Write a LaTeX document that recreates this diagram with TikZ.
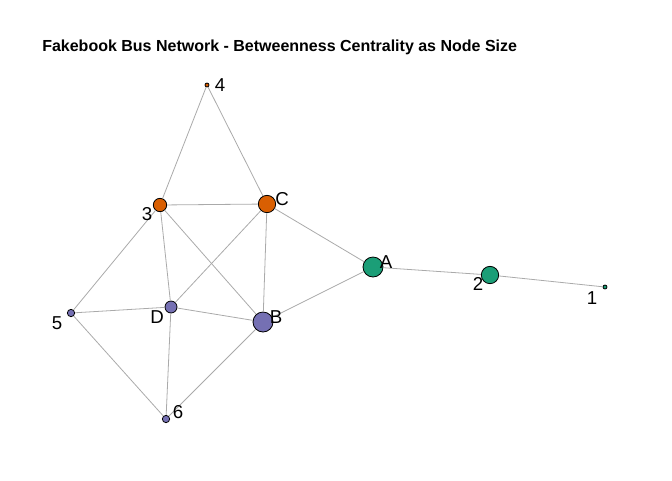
\documentclass[tikz,border=0pt]{standalone}
\usepackage{fontspec}
\setmainfont{Liberation Sans}
\begin{document}
\begin{tikzpicture}[x=0.75pt,y=-0.75pt,
  vtx/.style={circle,draw=black,line width=0.6pt,inner sep=0pt},
  org/.style={vtx,fill={rgb,255:red,217;green,95;blue,2}},
  grn/.style={vtx,fill={rgb,255:red,27;green,158;blue,119}},
  prp/.style={vtx,fill={rgb,255:red,117;green,112;blue,179}},
  lbl/.style={font=\fontsize{14}{15}\selectfont,inner sep=0pt},
  edge/.style={draw={rgb,255:red,170;green,170;blue,170},line width=0.6pt}]
\useasboundingbox (0,0) rectangle (672,480);
% vertices
\node[org,minimum size=3pt] (n4) at (207,85) {};
\node[org,minimum size=10pt] (n3) at (160,205) {};
\node[org,minimum size=13pt] (nC) at (267,204) {};
\node[grn,minimum size=15pt] (nA) at (373,267) {};
\node[grn,minimum size=13pt] (n2) at (490,275) {};
\node[grn,minimum size=3pt] (n1) at (605,287) {};
\node[prp,minimum size=9pt] (nD) at (171,307) {};
\node[prp,minimum size=15pt] (nB) at (263,322) {};
\node[prp,minimum size=5.5pt] (n5) at (71,313) {};
\node[prp,minimum size=5.5pt] (n6) at (166,419) {};
% edges
\draw[edge] (n4) -- (n3);
\draw[edge] (n4) -- (nC);
\draw[edge] (n3) -- (nC);
\draw[edge] (n3) -- (n5);
\draw[edge] (n3) -- (nD);
\draw[edge] (n3) -- (nB);
\draw[edge] (nC) -- (nD);
\draw[edge] (nC) -- (nB);
\draw[edge] (nC) -- (nA);
\draw[edge] (nA) -- (nB);
\draw[edge] (nA) -- (n2);
\draw[edge] (n2) -- (n1);
\draw[edge] (nD) -- (n5);
\draw[edge] (nD) -- (nB);
\draw[edge] (nD) -- (n6);
\draw[edge] (n5) -- (n6);
\draw[edge] (n6) -- (nB);
% labels
\node[lbl] (l4) at (220,85) {4};
\node[lbl] (l3) at (147,214) {3};
\node[lbl] (lC) at (282,199) {C};
\node[lbl] (lA) at (386,262) {A};
\node[lbl] (l2) at (478,284) {2};
\node[lbl] (l1) at (592,298) {1};
\node[lbl] (lD) at (157,317) {D};
\node[lbl] (lB) at (276,317) {B};
\node[lbl] (l5) at (57,323) {5};
\node[lbl] (l6) at (178,412) {6};
% title
\node[anchor=west,font=\bfseries\fontsize{12}{14}\selectfont,inner sep=0pt] (title) at (42,47) {Fakebook Bus Network - Betweenness Centrality as Node Size};
\end{tikzpicture}
\end{document}
